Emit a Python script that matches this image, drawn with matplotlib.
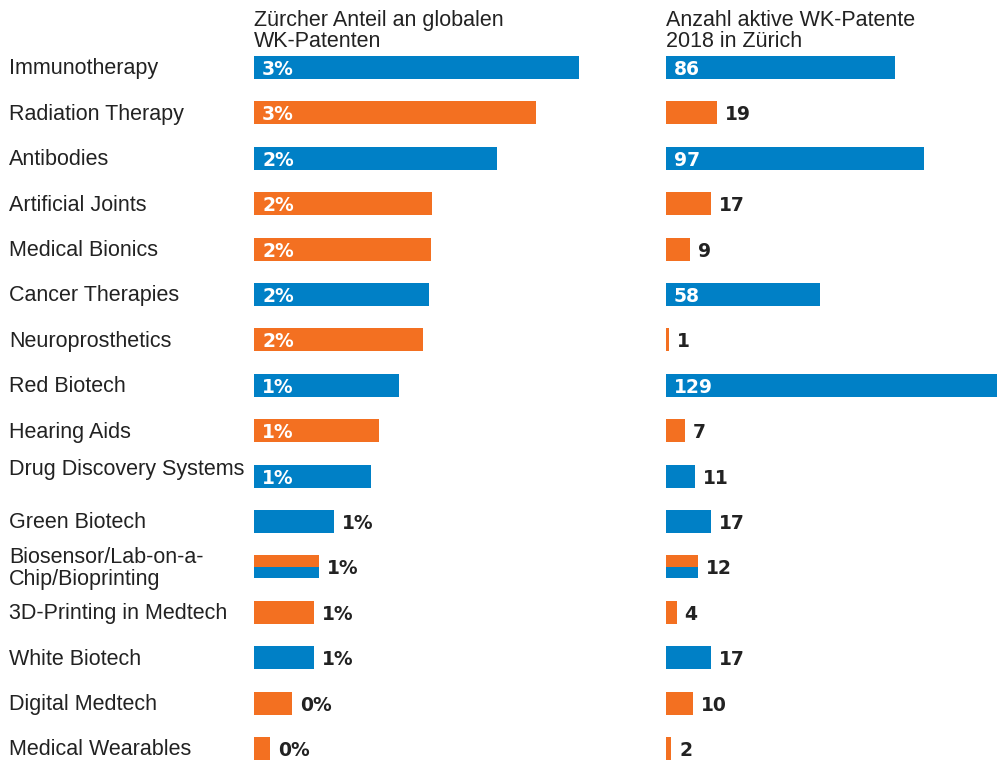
import matplotlib
matplotlib.use('Agg')
from matplotlib import pyplot as plt
import matplotlib.transforms as mtransforms

# Daten
categories = ['Immunotherapy', 'Radiation Therapy', 'Antibodies', 'Artificial Joints',
              'Medical Bionics', 'Cancer Therapies', 'Neuroprosthetics', 'Red Biotech',
              'Hearing Aids', 'Drug Discovery Systems', 'Green Biotech',
              'Biosensor/Lab-on-a-\nChip/Bioprinting', '3D-Printing in Medtech',
              'White Biotech', 'Digital Medtech', 'Medical Wearables']
# 'b' = Biotech (blau), 'm' = Medtech (orange), 'bm' = beides
groups = ['b', 'm', 'b', 'm', 'm', 'b', 'm', 'b', 'm', 'b', 'b', 'bm', 'm', 'b', 'm', 'm']
share_pct = [3.25, 2.82, 2.43, 1.78, 1.77, 1.75, 1.69, 1.45, 1.25, 1.17,
             0.80, 0.65, 0.60, 0.60, 0.38, 0.16]
patents_2018 = [86, 19, 97, 17, 9, 58, 1, 129, 7, 11, 17, 12, 4, 17, 10, 2]

title_left = 'Zürcher Anteil an globalen\nWK-Patenten'
title_right = 'Anzahl aktive WK-Patente\n2018 in Zürich'

BLUE = '#0080c6'
ORANGE = '#f37021'
TEXT = '#222222'
FONT = 'Liberation Sans'
NUMFONT = 'DejaVu Sans'

W, H = 997, 763
fig = plt.figure(figsize=(W / 100, H / 100), dpi=100)

row_px = 45.4
top_px = 67.5 - row_px / 2
ax_h = (H - top_px) / H
ylim = ((H - top_px) / row_px - 0.5, -0.5)

ax1 = fig.add_axes([254 / W, 0, 350 / W, ax_h])
ax2 = fig.add_axes([666 / W, 0, 331 / W, ax_h])
ax1.set_xlim(0, 3.5)
ax2.set_xlim(0, 331 / 2.66)


def draw_bars(ax, values, labels, inside_min):
    bh = 0.51
    for i, (v, g) in enumerate(zip(values, groups)):
        if g == 'bm':
            ax.barh(i - bh / 4, v, height=bh / 2, color=ORANGE, linewidth=0)
            ax.barh(i + bh / 4, v, height=bh / 2, color=BLUE, linewidth=0)
        else:
            ax.barh(i, v, height=bh, color=BLUE if g == 'b' else ORANGE, linewidth=0)
        off = mtransforms.offset_copy(ax.transData, fig=fig, x=8, y=-2, units='dots')
        if v >= inside_min:
            ax.text(0, i, labels[i], transform=off, color='white', fontsize=13.5,
                    fontweight='bold', family=NUMFONT, va='center', ha='left')
        else:
            ax.text(v, i, labels[i], transform=off, color=TEXT, fontsize=13.5,
                    fontweight='bold', family=NUMFONT, va='center', ha='left',
                    clip_on=False)
    ax.set_ylim(*ylim)
    ax.axis('off')


draw_bars(ax1, share_pct, ['%d%%' % round(v) for v in share_pct], 1.0)
draw_bars(ax2, patents_2018, [str(v) for v in patents_2018], 40)

# Kategorien
trans = mtransforms.blended_transform_factory(fig.transFigure, ax1.transData)
trans = trans + mtransforms.ScaledTranslation(0, -1.5 / 100, fig.dpi_scale_trans)
for i, c in enumerate(categories):
    dy = -0.18 if c.startswith('Drug') else 0
    fig.text(9 / W, i + dy, c, transform=trans, fontsize=15.5, family=FONT,
             color=TEXT, va='center', ha='left', linespacing=1.06)

# Titel
fig.text(254 / W, 1 - 10 / H, title_left, fontsize=15.5, family=FONT, color=TEXT,
         va='top', ha='left', linespacing=1.03)
fig.text(666 / W, 1 - 10 / H, title_right, fontsize=15.5, family=FONT, color=TEXT,
         va='top', ha='left', linespacing=1.03)

plt.savefig('out.png', dpi=100)
